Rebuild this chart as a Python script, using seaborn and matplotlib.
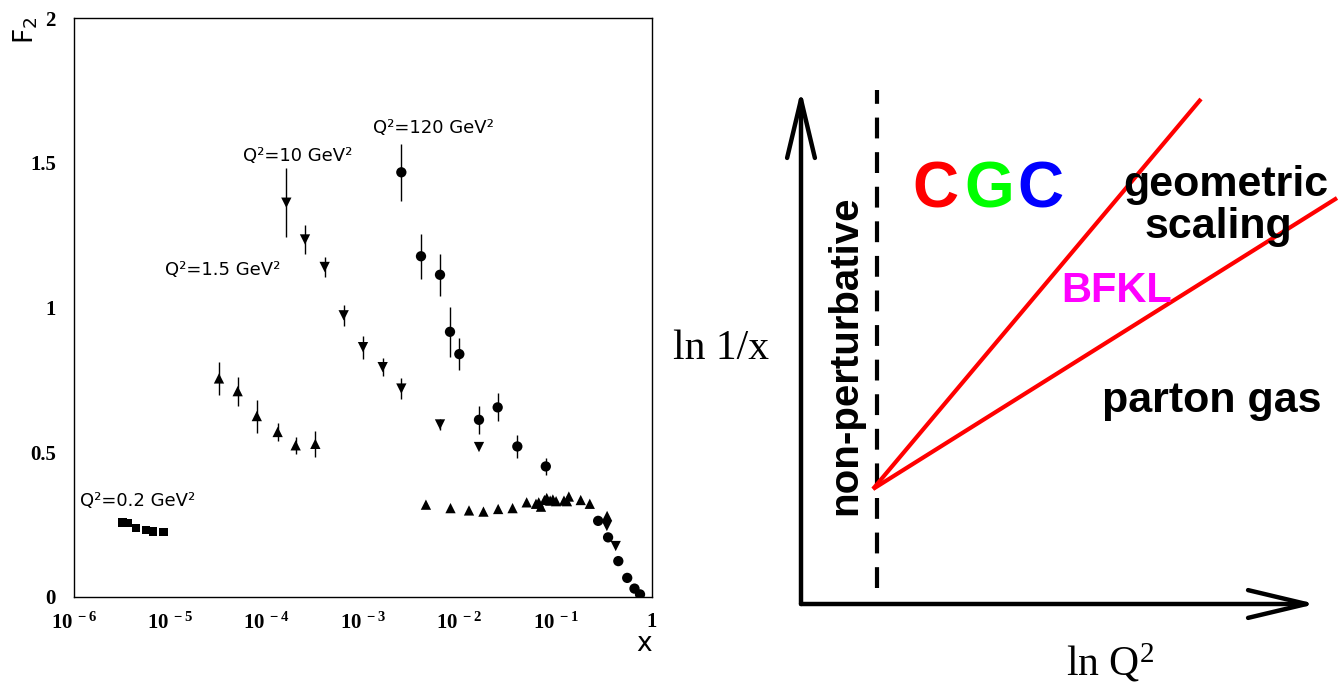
import matplotlib
matplotlib.use("Agg")
import matplotlib.pyplot as plt
import seaborn as sns
import numpy as np

# ---- left panel data: F2 vs x for several Q^2 ----
q02_x = [3.2e-6, 3.6e-6, 4.4e-6, 5.6e-6, 6.6e-6, 8.5e-6]
q02_f2 = [0.257, 0.256, 0.238, 0.231, 0.226, 0.225]
q02_err = [0.012, 0.012, 0.006, 0.005, 0.004, 0.004]

q15_x = [3.2e-5, 5.0e-5, 7.9e-5, 1.3e-4, 2.0e-4, 3.2e-4]
q15_f2 = [0.755, 0.711, 0.625, 0.570, 0.524, 0.529]
q15_err = [0.058, 0.050, 0.057, 0.032, 0.029, 0.045]

# fixed target points, same marker as Q^2=1.5
ft_x = [4.5e-3, 8.1e-3, 0.0126, 0.0178, 0.0253, 0.0357, 0.050, 0.0625, 0.0667, 0.0704,
        0.0764, 0.0808, 0.0877, 0.0935, 0.101, 0.122, 0.131, 0.137, 0.182, 0.226, 0.342]
ft_f2 = [0.319, 0.307, 0.299, 0.295, 0.304, 0.307, 0.327, 0.322, 0.327, 0.312,
         0.335, 0.342, 0.333, 0.337, 0.331, 0.333, 0.331, 0.347, 0.335, 0.322, 0.280]

q10_x = [1.6e-4, 2.5e-4, 4.0e-4, 6.3e-4, 1.0e-3, 1.6e-3, 2.5e-3, 6.3e-3, 0.016, 0.34, 0.42]
q10_f2 = [1.362, 1.235, 1.140, 0.973, 0.863, 0.794, 0.720, 0.596, 0.518, 0.245, 0.176]
q10_err = [0.12, 0.05, 0.036, 0.037, 0.04, 0.03, 0.035, 0.02, 0.0, 0.0, 0.0]

q120_x = [2.5e-3, 4.0e-3, 6.3e-3, 8.0e-3, 0.01, 0.016, 0.025, 0.04, 0.079,
          0.276, 0.35, 0.447, 0.553, 0.658, 0.751]
q120_f2 = [1.467, 1.177, 1.113, 0.916, 0.839, 0.612, 0.655, 0.520, 0.451,
           0.263, 0.206, 0.124, 0.066, 0.029, 0.009]
q120_err = [0.098, 0.077, 0.072, 0.086, 0.054, 0.049, 0.048, 0.039, 0.029,
            0.0, 0.0, 0.0, 0.0, 0.0, 0.0]

q2_labels = ["Q²=0.2 GeV²", "Q²=1.5 GeV²", "Q²=10 GeV²", "Q²=120 GeV²"]
q2_label_x = [1.15e-6, 8.8e-6, 5.7e-5, 1.27e-3]
q2_label_y = [0.331, 1.128, 1.524, 1.620]

xtick_vals = [1e-6, 1e-5, 1e-4, 1e-3, 1e-2, 1e-1, 1]
xtick_labels = [r"$\mathregular{10^{\,-6}}$", r"$\mathregular{10^{\,-5}}$", r"$\mathregular{10^{\,-4}}$",
                r"$\mathregular{10^{\,-3}}$", r"$\mathregular{10^{\,-2}}$", r"$\mathregular{10^{\,-1}}$", "1"]
ytick_vals = [0, 0.5, 1, 1.5, 2]
ytick_labels = ["0", "0.5", "1", "1.5", "2"]

# ---- right panel (schematic, arbitrary units) ----
axis_origin = (0, 0)
y_arrow_tip = (0, 514)
x_arrow_tip = (515, 0)
dash_x = [76, 76]
dash_y = [16, 514]
cgc_line_x = [72, 400]
cgc_line_y = [115, 505]
bfkl_line_x = [72, 536]
bfkl_line_y = [115, 406]

sns.set_style("white")
plt.rcParams['font.family'] = ['DejaVu Sans']
plt.rcParams['text.color'] = 'black'
plt.rcParams['xtick.color'] = 'black'
plt.rcParams['ytick.color'] = 'black'
plt.rcParams['axes.labelcolor'] = 'black'

fig = plt.figure(figsize=(13.38, 6.84), dpi=100)

# ================= left panel =================
ax = fig.add_axes([74/1338, 1-597/684, (652-74)/1338, (597-18)/684])

for xs, ys, es in [(q02_x, q02_f2, q02_err), (q15_x, q15_f2, q15_err),
                   (q10_x, q10_f2, q10_err), (q120_x, q120_f2, q120_err)]:
    ys = np.array(ys)
    es = np.array(es)
    ax.vlines(xs, ys - es, ys + es, color='black', lw=1)

sns.scatterplot(x=q02_x, y=q02_f2, marker='s', color='black', s=36, edgecolor='none', ax=ax)
sns.scatterplot(x=q15_x, y=q15_f2, marker='^', color='black', s=55, edgecolor='none', ax=ax)
sns.scatterplot(x=ft_x, y=ft_f2, marker='^', color='black', s=55, edgecolor='none', ax=ax)
sns.scatterplot(x=q10_x, y=q10_f2, marker='v', color='black', s=55, edgecolor='none', ax=ax)
sns.scatterplot(x=q120_x, y=q120_f2, marker='o', color='black', s=55, edgecolor='none', ax=ax)

ax.set_xscale('log')
ax.set_xlim(1e-6, 1)
ax.set_ylim(0, 2)
ax.set_xticks(xtick_vals)
ax.set_xticklabels(xtick_labels, fontfamily='Liberation Serif', fontweight='bold', fontsize=15)
ax.xaxis.set_minor_locator(matplotlib.ticker.LogLocator(base=10, subs=np.arange(2, 10), numticks=20))
ax.xaxis.set_minor_formatter(matplotlib.ticker.NullFormatter())
ax.set_yticks(ytick_vals)
ax.set_yticklabels(ytick_labels, fontfamily='Liberation Serif', fontweight='bold', fontsize=15)
ax.tick_params(axis='x', which='major', direction='in', length=9, width=1, color='black', pad=11)
ax.tick_params(axis='y', which='major', direction='in', length=9, width=1, color='black', pad=13)
ax.tick_params(axis='x', which='minor', direction='in', length=5, width=1, color='black')
ax.tick_params(axis='y', which='minor', length=0)
for sp in ax.spines.values():
    sp.set_linewidth(1)
    sp.set_color('black')

for txt, lx, ly in zip(q2_labels, q2_label_x, q2_label_y):
    ax.text(lx, ly, txt, fontsize=13, ha='left', va='center')

fig.text(26/1338, 1-30/684, r"$\mathregular{F_2}$", rotation=90, fontsize=19,
         ha='center', va='center')
fig.text(644/1338, 1-644/684, "x", fontsize=19, ha='center', va='center')

# ================= right panel =================
ax2 = fig.add_axes([670/1338, 0, 668/1338, 624/684])
ax2.set_xlim(-131, 537)
ax2.set_ylim(-80, 544)
ax2.axis('off')

arrow_kw = dict(arrowstyle='->,head_length=4.2,head_width=1.0', lw=3.2, color='black',
                shrinkA=0, shrinkB=0, mutation_scale=10)
ax2.annotate('', xy=y_arrow_tip, xytext=axis_origin, arrowprops=arrow_kw)
ax2.annotate('', xy=x_arrow_tip, xytext=axis_origin, arrowprops=arrow_kw)
ax2.plot(dash_x, dash_y, color='black', lw=3, linestyle=(0, (5, 3.3)))
ax2.plot(cgc_line_x, cgc_line_y, color='red', lw=3, solid_capstyle='butt')
ax2.plot(bfkl_line_x, bfkl_line_y, color='red', lw=3, solid_capstyle='butt')

serif = 'Liberation Serif'
sans = 'Liberation Sans'
ax2.text(-80, 255, "ln 1/x", fontfamily=serif, fontsize=30, ha='center', va='center')
ax2.text(309, -71, r"ln Q$\mathregular{^2}$", fontfamily=serif, fontsize=30, ha='center', va='baseline')
ax2.text(44, 249, "non-perturbative", fontfamily=sans, fontweight='bold', fontsize=29,
         rotation=90, ha='center', va='center')
for letter, cx, col in zip(["C", "G", "C"], [134, 188, 239], ['#ff0000', '#00ff00', '#0000ff']):
    ax2.text(cx, 396, letter, fontfamily=sans, fontweight='bold', fontsize=46, color=col,
             ha='center', va='baseline')
ax2.text(425, 408, "geometric", fontfamily=sans, fontweight='bold', fontsize=31,
         ha='center', va='baseline', zorder=5)
ax2.text(417, 366, "scaling", fontfamily=sans, fontweight='bold', fontsize=31,
         ha='center', va='baseline', zorder=5)
ax2.text(316, 302, "BFKL", fontfamily=sans, fontweight='bold', fontsize=30, color='#ff00ff',
         ha='center', va='baseline', zorder=5)
ax2.text(411, 192, "parton gas", fontfamily=sans, fontweight='bold', fontsize=31,
         ha='center', va='baseline', zorder=5)

fig.savefig('out.png', dpi=100)
